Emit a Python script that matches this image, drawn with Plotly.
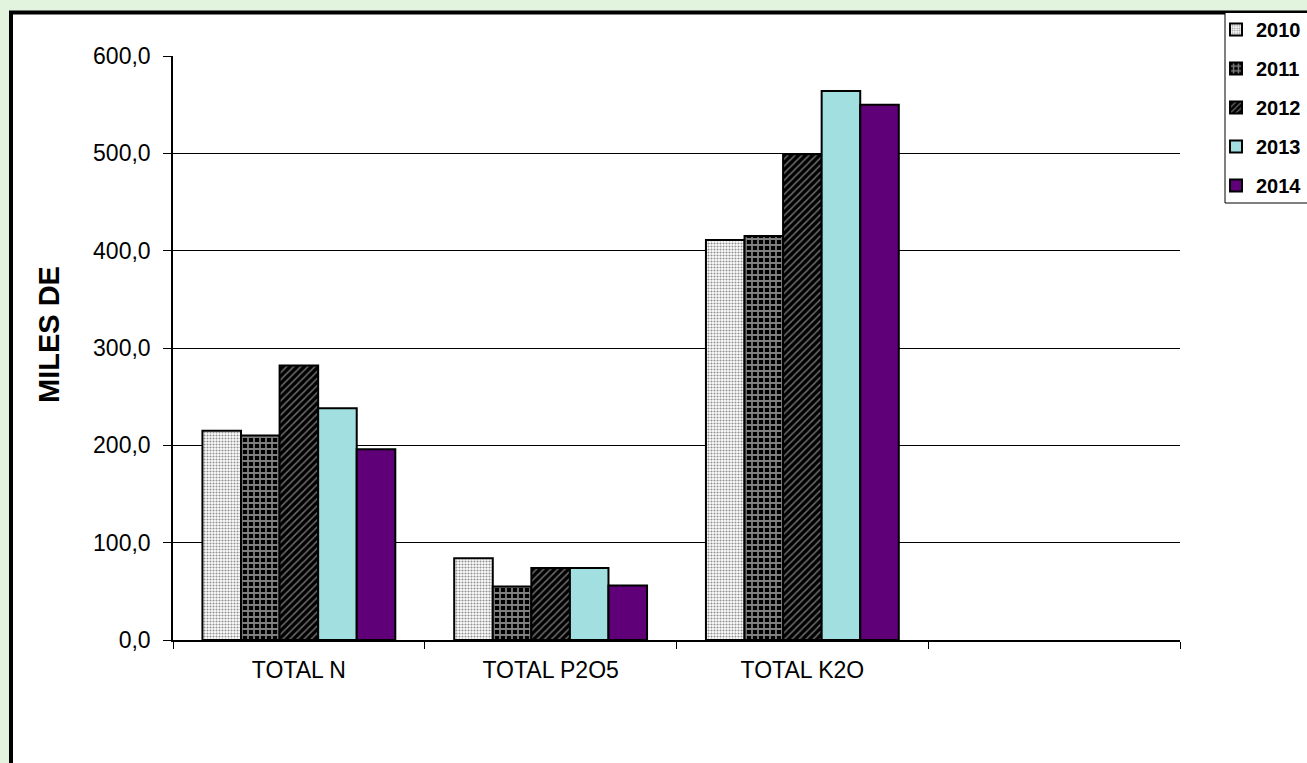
import plotly.graph_objects as go

categories = ["TOTAL N", "TOTAL P2O5", "TOTAL K2O"]
axis_categories = ["TOTAL N", "TOTAL P2O5", "TOTAL K2O", " "]
years = ["2010", "2011", "2012", "2013", "2014"]
v2010 = [215, 84, 411]
v2011 = [210, 55, 415]
v2012 = [282, 74, 499]
v2013 = [238, 74, 564]
v2014 = [196, 56, 550]
series = [v2010, v2011, v2012, v2013, v2014]
y_ticks = [0, 100, 200, 300, 400, 500, 600]

styles = [
    dict(color="white", pattern=dict(shape=".", fgcolor="#222222", bgcolor="white", size=3, solidity=0.4)),
    dict(color="black", pattern=dict(shape="+", fgcolor="white", bgcolor="black", size=6, solidity=0.5)),
    dict(color="black", pattern=dict(shape="/", fgcolor="#d8d8d8", bgcolor="black", size=5, solidity=0.3)),
    dict(color="#a2dfe0"),
    dict(color="#5f0079"),
]

fig = go.Figure()
for i, (yr, vals) in enumerate(zip(years, series)):
    st = styles[i]
    marker = dict(color=st["color"], line=dict(color="black", width=2))
    if "pattern" in st:
        marker["pattern"] = st["pattern"]
    fig.add_trace(go.Bar(name=yr, x=categories, y=vals, marker=marker, legendgroup=yr))

# pixel geometry helpers (plot area 173..1180 x, 56..640 y)
L, R, T, B = 173, 1180, 56, 640
def px(x):
    return (x - L) / (R - L)
def py(y):
    return (B - y) / (B - T)

fig.update_layout(
    width=1307, height=763,
    margin=dict(l=L, r=1307 - R, t=T, b=763 - B, autoexpand=False),
    paper_bgcolor="#e2f3de",
    plot_bgcolor="white",
    separators=",.",
    barmode="group",
    bargap=0.234,
    bargroupgap=0,
    font=dict(family="Liberation Sans, Arial, sans-serif", color="black"),
    showlegend=True,
    legend=dict(
        x=px(1256 - 40), xanchor="left",
        y=py(10), yanchor="top",
        bgcolor="rgba(0,0,0,0)", borderwidth=0,
        font=dict(size=20, family="Liberation Sans, Arial, sans-serif", color="black", weight="bold"),
        traceorder="grouped", tracegroupgap=10,
    ),
    shapes=[
        dict(type="rect", xref="paper", yref="paper", x0=px(11), x1=px(1340), y0=py(800), y1=py(12.5),
             fillcolor="white", line=dict(color="black", width=4), layer="below"),
        dict(type="rect", xref="paper", yref="paper", x0=px(1225), x1=px(1340), y0=py(203), y1=py(12.5),
             fillcolor="white", line=dict(color="black", width=1), layer="below"),
    ],
    annotations=[
        dict(text="<b>MILES DE</b>", xref="paper", yref="paper", x=px(49), y=py(335),
             textangle=-90, showarrow=False, font=dict(size=29, color="black"),
             xanchor="center", yanchor="middle"),
    ],
)

fig.update_xaxes(
    type="category", categoryorder="array", categoryarray=axis_categories,
    range=[-0.5, 3.5], tickson="boundaries", ticks="outside", ticklen=7, tickcolor="black",
    showline=True, linecolor="black", linewidth=2, showgrid=False, ticklabelstandoff=8,
    tickfont=dict(size=23, color="black"), fixedrange=True,
)
fig.update_yaxes(
    range=[0, 600], tickvals=y_ticks, tickformat=".1f", ticks="outside", ticklen=8,
    tickcolor="black", showline=True, linecolor="black", linewidth=1.5, ticklabelstandoff=8,
    showgrid=True, gridcolor="black", gridwidth=1, zeroline=False,
    tickfont=dict(size=23, color="black"), fixedrange=True,
)

fig.write_html("out.html")
